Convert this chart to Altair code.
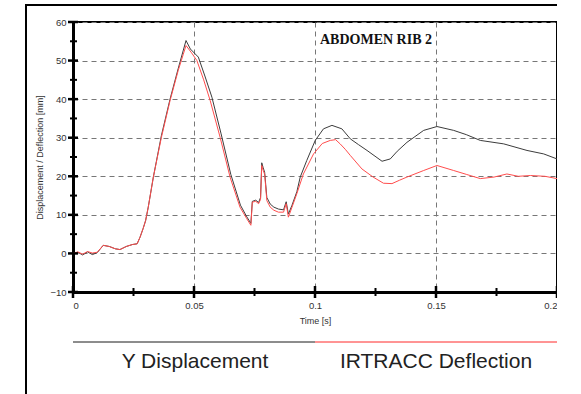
import altair as alt
import pandas as pd

# ---- data ----
red_t = [0, 0.002, 0.004, 0.006, 0.008, 0.010, 0.0125, 0.015, 0.0175, 0.0194, 0.022, 0.0245, 0.0265,
         0.0277, 0.0290, 0.0300, 0.0311, 0.0332, 0.0365, 0.0401, 0.0435, 0.0455, 0.0467, 0.0490, 0.0512,
         0.0540, 0.0567, 0.0608, 0.0649, 0.069, 0.0718, 0.0735, 0.0741, 0.0755, 0.0767, 0.0775, 0.078,
         0.0786, 0.0792, 0.0801, 0.0815, 0.083, 0.0849, 0.087, 0.0881, 0.089, 0.0905, 0.0925, 0.0952,
         0.0994, 0.1030, 0.1063, 0.1085, 0.1104, 0.1125, 0.1146, 0.1194, 0.124, 0.1283, 0.1318, 0.135,
         0.138, 0.1449, 0.1504, 0.1573, 0.1625, 0.1683, 0.174, 0.1793, 0.184, 0.189, 0.195, 0.2]
red_y = [0, 0.4, -0.2, 0.5, 0.1, 0.3, 2.1, 1.8, 1.2, 1.0, 1.8, 2.3, 2.5,
         4.2, 6.5, 8.5, 12, 19.8, 30, 39.6, 47.5, 51.5, 53.9, 52, 50,
         45, 39.6, 30.1, 19.8, 12, 9, 7.3, 13.3, 13.5, 12.9, 14, 22.8,
         21.5, 20.5, 13.7, 12, 11.2, 10.7, 10.7, 12.9, 9.4, 12, 15.5, 20.6,
         25.8, 28.5, 29.3, 29.5, 28.4, 27, 25.4, 21.9, 19.8, 18.2, 18.1, 19,
         19.8, 21.5, 22.8, 21.5, 20.5, 19.4, 19.8, 20.6, 20.0, 20.2, 20.0, 19.4]

blk_t = [0, 0.002, 0.004, 0.006, 0.008, 0.010, 0.0125, 0.015, 0.0175, 0.0194, 0.022, 0.0245, 0.0265,
         0.0277, 0.0290, 0.0300, 0.0311, 0.0332, 0.0365, 0.0401, 0.0435, 0.0455, 0.0467, 0.0485, 0.0518,
         0.0545, 0.0574, 0.0612, 0.0652, 0.0692, 0.0718, 0.0735, 0.0741, 0.0755, 0.0767, 0.0775, 0.078,
         0.0786, 0.0792, 0.0801, 0.0815, 0.083, 0.0849, 0.087, 0.0881, 0.089, 0.0905, 0.0925, 0.0939,
         0.0966, 0.1001, 0.1035, 0.107, 0.1111, 0.1146, 0.118, 0.1215, 0.1277, 0.1311, 0.134, 0.138,
         0.1449, 0.1504, 0.1573, 0.1625, 0.1683, 0.178, 0.1876, 0.1945, 0.2]
blk_y = [0, 0.3, -0.4, 0.4, -0.3, 0.2, 2.1, 1.8, 1.2, 1.0, 1.8, 2.3, 2.5,
         4.2, 6.5, 8.5, 12, 19.8, 30.5, 40, 48, 52.5, 55.2, 53, 50.9,
         46, 40.5, 31, 20.5, 12.5, 9.5, 7.8, 13.5, 13.8, 13.2, 14.5, 23.5,
         22.2, 21, 14.5, 12.8, 12, 11.5, 11.3, 13.4, 10.2, 12.5, 16, 19.8,
         24.1, 29.3, 32.3, 33.2, 32.3, 29.7, 28.2, 26.7, 23.9, 24.5, 26.5, 28.8,
         31.9, 32.9, 31.9, 30.8, 29.3, 28.4, 26.7, 25.8, 24.5]

x_major = [0, 0.05, 0.1, 0.15, 0.2]
x_minor = [0.025, 0.075, 0.125, 0.175]
y_major = [-10, 0, 10, 20, 30, 40, 50, 60]
y_minor = [-5, 5, 15, 25, 35, 45, 55]

title_text = "ABDOMEN RIB 2"
legend_names = ["Y Displacement", "IRTRACC Deflection"]
x_title = "Time [s]"
y_title = "Displacement / Deflection [mm]"

W, H = 484, 270
RED = "#ff4d4d"
BLK = "#3c3c3c"
FONT = "Liberation Sans"

red_df = pd.DataFrame({"t": red_t, "v": red_y})
blk_df = pd.DataFrame({"t": blk_t, "v": blk_y})

xs = alt.Scale(domain=[0, 0.2], nice=False, zero=False)
ys = alt.Scale(domain=[-10, 60], nice=False, zero=False)

x_axis = alt.Axis(values=x_major, format="~g", grid=True, gridDash=[5, 4], gridColor="#777",
                  gridWidth=1, ticks=False, domainColor="black", domainWidth=3,
                  labelFont=FONT, labelFontSize=9.5, labelColor="#333", labelPadding=8,
                  title=x_title, titleFont=FONT, titleFontSize=9, titleFontWeight="normal",
                  titleColor="#333", titleX=242, titleY=28, titleBaseline="middle")
y_axis = alt.Axis(values=y_major, grid=True, gridDash=[5, 4], gridColor="#777",
                  gridWidth=1, ticks=False, domainColor="black", domainWidth=3,
                  labelFont=FONT, labelFontSize=9.5, labelColor="#333", labelPadding=7,
                  title=y_title, titleFont=FONT, titleFontSize=9, titleFontWeight="normal",
                  titleColor="#333", titleX=-34, titleY=135, titleAngle=270,
                  titleAlign="center", titleBaseline="middle")

X = alt.X("t:Q", scale=xs, axis=x_axis)
Y = alt.Y("v:Q", scale=ys, axis=y_axis)

black_line = alt.Chart(blk_df).mark_line(color=BLK, strokeWidth=1).encode(x=X, y=Y, order="t:Q")
red_line = alt.Chart(red_df).mark_line(color=RED, strokeWidth=1).encode(x=X, y=Y, order="t:Q")

xmaj = alt.Chart(pd.DataFrame({"t": x_major})).mark_rule(color="black", strokeWidth=2.5).encode(
    x=X, y=alt.value(H - 6), y2=alt.value(H + 6))
xmin = alt.Chart(pd.DataFrame({"t": x_minor})).mark_rule(color="black", strokeWidth=2).encode(
    x=X, y=alt.value(H - 4), y2=alt.value(H + 4))
ymaj = alt.Chart(pd.DataFrame({"v": y_major})).mark_rule(color="black", strokeWidth=2.5).encode(
    y=Y, x=alt.value(-5), x2=alt.value(5))
ymin = alt.Chart(pd.DataFrame({"v": y_minor})).mark_rule(color="black", strokeWidth=2).encode(
    y=Y, x=alt.value(-3), x2=alt.value(4))

title_mark = alt.Chart(pd.DataFrame({"s": [title_text]})).mark_text(
    font="Liberation Serif", fontSize=14, fontWeight="bold", color="#111",
    align="left", baseline="middle").encode(
    text="s:N", x=alt.value(247), y=alt.value(18))

leg_df = pd.DataFrame({"name": legend_names})
leg_rule1 = alt.Chart(leg_df).mark_rule(color="#666", strokeWidth=1).encode(
    x=alt.value(0), x2=alt.value(242), y=alt.value(320))
leg_rule2 = alt.Chart(leg_df).mark_rule(color="#ff7070", strokeWidth=1).encode(
    x=alt.value(242), x2=alt.value(W), y=alt.value(320))
leg_t1 = alt.Chart(pd.DataFrame({"s": [legend_names[0]]})).mark_text(
    font=FONT, fontSize=21, color="#222", align="center", baseline="middle").encode(
    text="s:N", x=alt.value(122), y=alt.value(340))
leg_t2 = alt.Chart(pd.DataFrame({"s": [legend_names[1]]})).mark_text(
    font=FONT, fontSize=21, color="#222", align="center", baseline="middle").encode(
    text="s:N", x=alt.value(363), y=alt.value(340))

frame_left = alt.Chart(leg_df).mark_rule(color="black", strokeWidth=2).encode(
    x=alt.value(-47), y=alt.value(-17), y2=alt.value(380))
frame_top = alt.Chart(leg_df).mark_rule(color="black", strokeWidth=2).encode(
    x=alt.value(-48), x2=alt.value(520), y=alt.value(-17))

chart = alt.layer(
    black_line, red_line, xmaj, xmin, ymaj, ymin, title_mark,
    leg_rule1, leg_rule2, leg_t1, leg_t2, frame_left, frame_top,
).properties(
    width=W, height=H,
    autosize=alt.AutoSizeParams(type="none"),
    padding={"left": 73, "top": 22, "right": 0, "bottom": 102},
    background="white",
).configure_view(stroke="black", strokeWidth=2)

chart.save("out.html", embed_options={"renderer": "svg", "actions": False})
